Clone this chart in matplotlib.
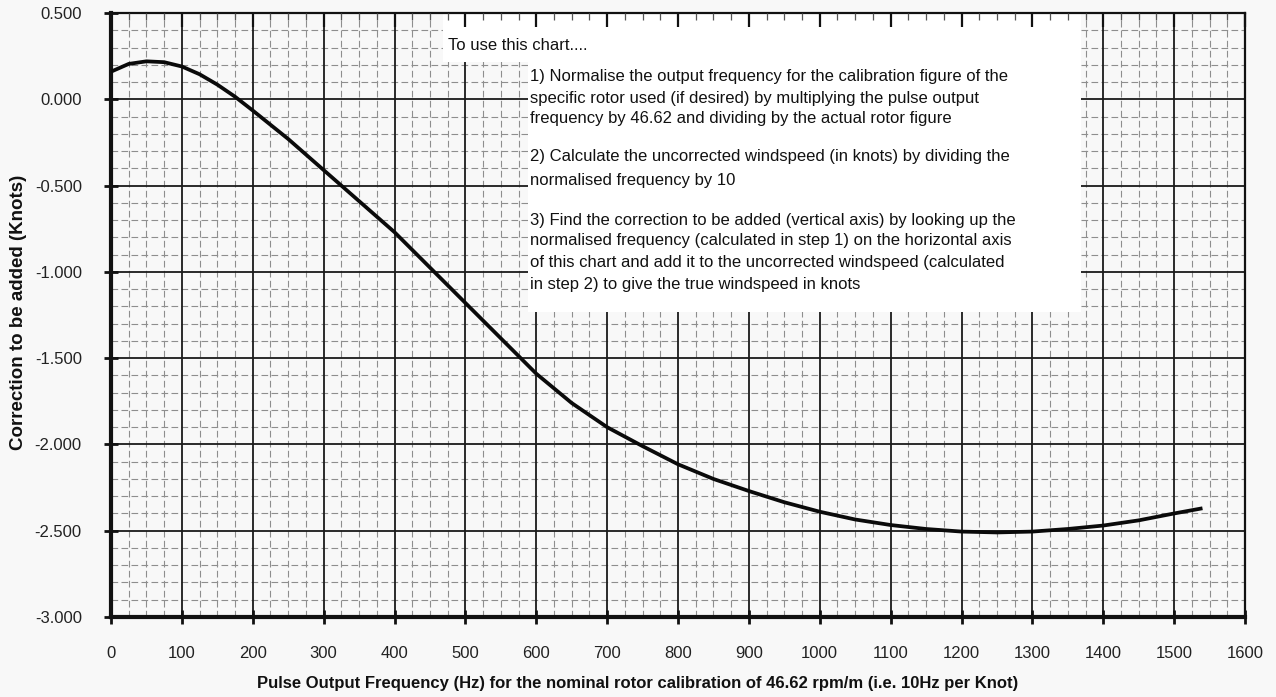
import matplotlib
matplotlib.use("Agg")
import matplotlib.pyplot as plt
from matplotlib.patches import Polygon
import numpy as np

plt.rcParams['font.family'] = ['Liberation Sans', 'DejaVu Sans']

# values
freq = [0, 25, 50, 75, 100, 125, 150, 175, 200, 250, 300, 350, 400, 450,
        500, 550, 600, 650, 700, 750, 800, 850, 900, 950, 1000, 1050, 1100,
        1150, 1200, 1250, 1300, 1350, 1400, 1450, 1500, 1540]
corr = [0.16, 0.205, 0.22, 0.215, 0.19, 0.145, 0.085, 0.015, -0.065, -0.23,
        -0.41, -0.59, -0.77, -0.975, -1.18, -1.385, -1.59, -1.76, -1.90,
        -2.01, -2.115, -2.20, -2.27, -2.335, -2.39, -2.435, -2.467, -2.49,
        -2.505, -2.51, -2.505, -2.49, -2.47, -2.44, -2.40, -2.37]

x_ticks = list(range(0, 1601, 100))
y_ticks = [0.5, 0.0, -0.5, -1.0, -1.5, -2.0, -2.5, -3.0]

xlabel = "Pulse Output Frequency (Hz) for the nominal rotor calibration of 46.62 rpm/m (i.e. 10Hz per Knot)"
ylabel = "Correction to be added (Knots)"

note_title = "To use this chart...."
note_lines = [
    ["1) Normalise the output frequency for the calibration figure of the",
     "specific rotor used (if desired) by multiplying the pulse output",
     "frequency by 46.62 and dividing by the actual rotor figure"],
    ["2) Calculate the uncorrected windspeed (in knots) by dividing the",
     "normalised frequency by 10"],
    ["3) Find the correction to be added (vertical axis) by looking up the",
     "normalised frequency (calculated in step 1) on the horizontal axis",
     "of this chart and add it to the uncorrected windspeed (calculated",
     "in step 2) to give the true windspeed in knots"],
]

W, H = 1276, 697
bg = '#f8f8f8'
fig = plt.figure(figsize=(W / 100, H / 100), dpi=100, facecolor=bg)
ax = fig.add_axes([111 / W, 1 - 617 / H, 1134 / W, 604 / H])
ax.set_facecolor(bg)
ax.set_xlim(0, 1600)
ax.set_ylim(-3.0, 0.5)

# grid
xminor = [v for v in np.arange(0, 1601, 25) if v % 100 != 0]
yminor = [v for v in np.arange(-2.9, 0.45, 0.1) if abs(v * 2 - round(v * 2)) > 1e-6]
ax.vlines(xminor, -3, 0.5, colors='#8e8e8e', linestyles=(0, (6, 3)), linewidth=0.8, zorder=1)
ax.hlines(yminor, 0, 1600, colors='#8e8e8e', linestyles=(0, (6, 3)), linewidth=0.8, zorder=1)
ax.vlines(x_ticks[1:-1], -3, 0.5, colors='#1a1a1a', linewidth=1.3, zorder=1.1)
ax.hlines(y_ticks[1:-1], 0, 1600, colors='#1a1a1a', linewidth=1.3, zorder=1.1)

# white note box covering the grid
box = Polygon([(468, 0.5), (1368, 0.5), (1368, -1.232), (588, -1.232),
               (588, 0.216), (468, 0.216)], closed=True,
              facecolor='white', edgecolor='none', zorder=1.5)
ax.add_patch(box)

ax.plot(freq, corr, color='#0a0a0a', linewidth=2.7, zorder=3,
        solid_capstyle='butt', solid_joinstyle='round')

ax.set_xticks(x_ticks)
ax.set_yticks(y_ticks)
ax.set_yticklabels(['%.3f' % v for v in y_ticks])
ax.tick_params(axis='both', direction='inout', length=10, width=2,
               labelsize=12, labelcolor='#222222', colors='#111111')
ax.tick_params(axis='x', pad=16)
ax.tick_params(axis='y', pad=16)
for s in ['left', 'bottom']:
    ax.spines[s].set_linewidth(3)
for s in ['top', 'right']:
    ax.spines[s].set_linewidth(1.6)
for s in ax.spines.values():
    s.set_color('#111111')

ax.set_xlabel(xlabel, fontsize=12, fontweight='bold', color='#111111')
ax.xaxis.set_label_coords(0.464, -0.098)
ax.set_ylabel(ylabel, fontsize=13.5, fontweight='bold', color='#111111')
ax.yaxis.set_label_coords(-0.074, 0.505)

# top axis ticks pointing down
ax2 = ax.twiny()
ax2.set_xlim(0, 1600)
ax2.set_xticks(x_ticks)
ax2.set_xticks(xminor, minor=True)
ax2.tick_params(axis='x', which='major', direction='in', length=10, width=1.6,
                labeltop=False, colors='#111111')
ax2.tick_params(axis='x', which='minor', direction='in', length=5, width=0.9,
                colors='#555555')
for s in ax2.spines.values():
    s.set_visible(False)

# note text
fig.text(448 / W, 1 - 45 / H, note_title, fontsize=12, color='#111111',
         ha='left', va='center')
ys = [[77, 98, 119], [157, 180], [220, 241, 262, 284]]
for para, yy in zip(note_lines, ys):
    for line, y in zip(para, yy):
        fig.text(530 / W, 1 - y / H, line, fontsize=12, color='#111111',
                 ha='left', va='center')

fig.savefig('out.png', dpi=100, facecolor=bg)
